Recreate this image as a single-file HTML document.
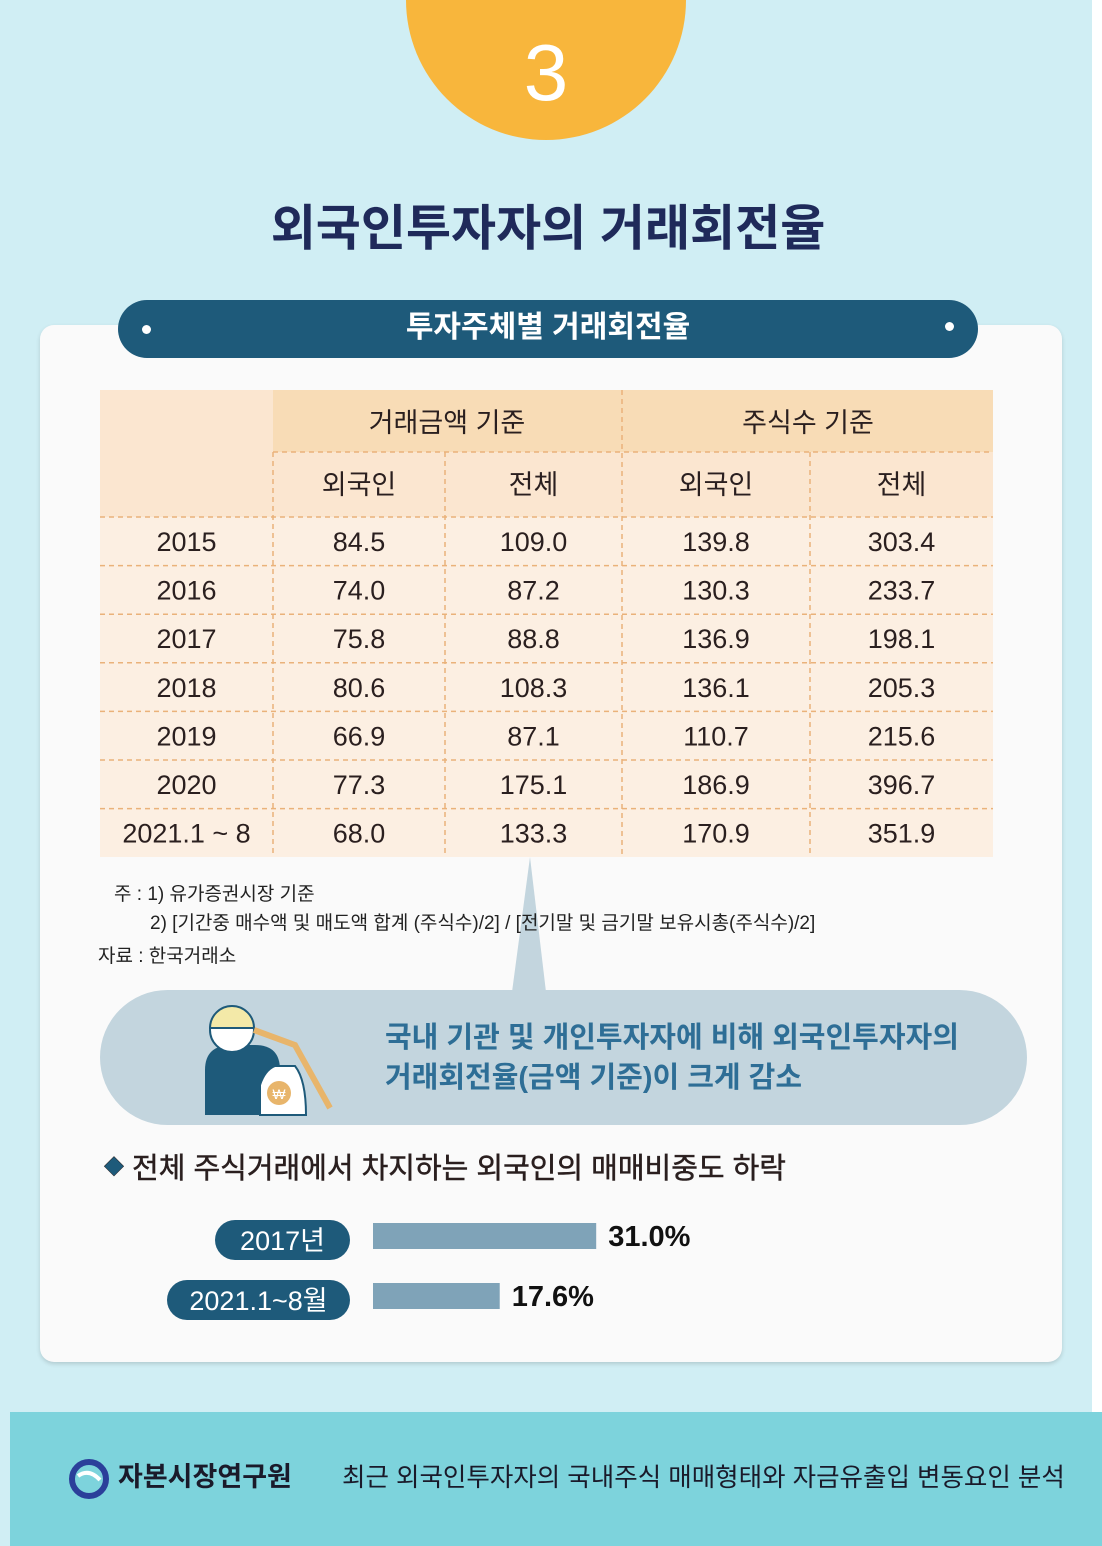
<!DOCTYPE html>
<html><head><meta charset="utf-8"><style>
body{margin:0;width:1102px;height:1546px;overflow:hidden;background:#fff;font-family:"Liberation Sans","Noto Sans CJK KR",sans-serif;}
.abs{position:absolute}
</style></head><body>
<div class="abs" style="left:0;top:0;width:1092px;height:1546px;background:#d0eef4"></div>
<div class="abs" style="left:406px;top:-140px;width:280px;height:280px;border-radius:50%;background:#f8b63c"></div>
<div class="abs" style="left:406px;top:28px;width:280px;text-align:center;color:#fff;font-size:80px;line-height:90px">3</div>
<div class="abs" style="left:0;top:196px;width:1096px;text-align:center;color:#1f2a5a;font-size:49px;font-weight:bold;line-height:66px">외국인투자자의 거래회전율</div>
<div class="abs" style="left:40px;top:325px;width:1022px;height:1037px;background:#fafafa;border-radius:14px;box-shadow:0 2px 4px rgba(0,0,0,.15)"></div>
<div class="abs" style="left:118px;top:300px;width:860px;height:58px;border-radius:29px;background:#1e5a7a;color:#fff;font-size:30px;font-weight:bold;text-align:center;line-height:56px">투자주체별 거래회전율
<span style="position:absolute;left:24px;top:25px;width:9px;height:9px;border-radius:50%;background:#fff"></span>
<span style="position:absolute;right:24px;top:22px;width:9px;height:9px;border-radius:50%;background:#fff"></span></div>

<svg class="abs" style="left:0;top:0" width="1102" height="1546" id="tbl"></svg>

<div class="abs" style="left:100px;top:990px;width:927px;height:135px;border-radius:68px;background:#c3d5de"></div>
<svg class="abs" style="left:0;top:0" width="1102" height="1546">
<polygon points="530,857 512,992 546,992" fill="#c3d5de"/>
<path d="M205,1115 L205,1070 Q205,1045 232,1045 L255,1045 Q280,1045 280,1070 L280,1115 Z" fill="#1e5a7a"/>
<circle cx="232" cy="1030" r="22" fill="#fff" stroke="#1e5a7a" stroke-width="2"/>
<path d="M210,1028 A22,22 0 0 1 254,1028 Z" fill="#f3e9a8" stroke="#1e5a7a" stroke-width="2"/>
<path d="M254,1030 L295,1045 L330,1108" fill="none" stroke="#e8b56b" stroke-width="6"/>
<path d="M260,1115 L260,1085 Q265,1070 275,1066 L295,1066 Q306,1080 306,1115 Z" fill="#fff" stroke="#1e5a7a" stroke-width="2"/>
<circle cx="279" cy="1093" r="12" fill="#e8b56b"/>
<text x="279" y="1099" font-size="14" fill="#fff" text-anchor="middle">₩</text>
</svg>
<div class="abs" style="left:98px;top:878px;font-size:19px;color:#222;line-height:33px">
<div style="padding-left:16px">주 : 1) 유가증권시장 기준</div>
<div style="padding-left:52px;margin-top:-4px">2) [기간중 매수액 및 매도액 합계 (주식수)/2] / [전기말 및 금기말 보유시총(주식수)/2]</div>
<div>자료 : 한국거래소</div></div>
<div class="abs" style="left:385px;top:1018px;font-size:29px;color:#2e6e96;line-height:40px;font-weight:bold">국내 기관 및 개인투자자에 비해 외국인투자자의<br>거래회전율(금액 기준)이 크게 감소</div>

<div class="abs" style="left:104px;top:1148px;font-size:29px;color:#2a1f1f;line-height:40px;-webkit-text-stroke:0.5px #2a1f1f"><span style="color:#1e5a7a;font-size:20px;vertical-align:4px">◆</span> 전체 주식거래에서 차지하는 외국인의 매매비중도 하락</div>
<svg class="abs" style="left:0;top:0" width="1102" height="1546" id="bars"></svg>

<div class="abs" style="left:10px;top:1412px;width:1092px;height:134px;background:#7dd3dc"></div>
<svg class="abs" style="left:68px;top:1458px" width="42" height="42"><circle cx="21" cy="21" r="17" fill="none" stroke="#2b3f9a" stroke-width="6"/><path d="M10,18 Q21,10 32,22" stroke="#fff" stroke-width="4" fill="none"/></svg>
<div class="abs" style="left:118px;top:1459px;font-size:27px;font-weight:bold;color:#1a1a2a;line-height:36px">자본시장연구원</div>
<div class="abs" style="left:342px;top:1460px;font-size:25.5px;color:#1a1a2a;line-height:36px">최근 외국인투자자의 국내주식 매매형태와 자금유출입 변동요인 분석</div>

<script>
const years=["2015","2016","2017","2018","2019","2020","2021.1 ~ 8"];
const amtForeign=["84.5","74.0","75.8","80.6","66.9","77.3","68.0"];
const amtTotal=["109.0","87.2","88.8","108.3","87.1","175.1","133.3"];
const shrForeign=["139.8","130.3","136.9","136.1","110.7","186.9","170.9"];
const shrTotal=["303.4","233.7","198.1","205.3","215.6","396.7","351.9"];
const barLabels=["2017년","2021.1~8월"];
const barValues=[31.0,17.6];

const NS="http://www.w3.org/2000/svg";
function mk(p,t,a,txt){const e=document.createElementNS(NS,t);for(const k in a)e.setAttribute(k,a[k]);if(txt!=null)e.textContent=txt;p.appendChild(e);return e;}
const t=document.getElementById('tbl');
const X=[100,273,445,622,810,993];
mk(t,'rect',{x:100,y:390,width:893,height:467,fill:'#fcefe2'});
mk(t,'rect',{x:273,y:390,width:720,height:62,fill:'#f8dcb6'});
mk(t,'rect',{x:273,y:452,width:720,height:65,fill:'#fbe6d0'});
mk(t,'rect',{x:100,y:390,width:173,height:127,fill:'#fbe6d0'});
const dash={stroke:'#eab27a','stroke-width':1.5,'stroke-dasharray':'5,4'};
[622].forEach(x=>mk(t,'line',Object.assign({x1:x,y1:390,x2:x,y2:857},dash)));
[273,445,810].forEach(x=>mk(t,'line',Object.assign({x1:x,y1:452,x2:x,y2:857},dash)));
mk(t,'line',Object.assign({x1:273,y1:452,x2:993,y2:452},dash));
const r0=517,rh=48.6;
for(let i=0;i<=years.length-1;i++){mk(t,'line',Object.assign({x1:100,y1:r0+i*rh,x2:993,y2:r0+i*rh},dash));}
const hs={'font-size':27,fill:'#2a1f1f','text-anchor':'middle'};
let e=mk(t,'text',Object.assign({x:447,y:432},hs),'거래금액 기준');
e=mk(t,'text',Object.assign({x:808,y:432},hs),'주식수 기준');
['외국인','전체','외국인','전체'].forEach((s,j)=>{const el=mk(t,'text',Object.assign({x:(X[j+1]+X[j+2])/2,y:494},hs),s);});
const cols=[years,amtForeign,amtTotal,shrForeign,shrTotal];
years.forEach((_,i)=>{cols.forEach((c,j)=>{const el=mk(t,'text',Object.assign({},hs,{x:(X[j]+X[j+1])/2,y:r0+i*rh+34}),c[i]);});});

const b=document.getElementById('bars');
const bx=373,sc=7.2,ys=[1223,1283],lx=[215,167];
barValues.forEach((v,i)=>{
 const r=mk(b,'rect',{x:lx[i],y:ys[i]-3,width:350-lx[i],height:40,rx:20,fill:'#1e5a7a'});
 
 const tl=mk(b,'text',{x:(lx[i]+350)/2,y:ys[i]+27,'font-size':27,fill:'#fff','text-anchor':'middle'},barLabels[i]);
 
 const br=mk(b,'rect',{x:bx,y:ys[i],width:v*sc,height:26,fill:'#7fa3b8'});
 
 const tv=mk(b,'text',{x:bx+v*sc+12,y:ys[i]+23,'font-size':29,'font-weight':'bold',fill:'#111'},v.toFixed(1)+'%');
 
});
</script>
</body></html>
